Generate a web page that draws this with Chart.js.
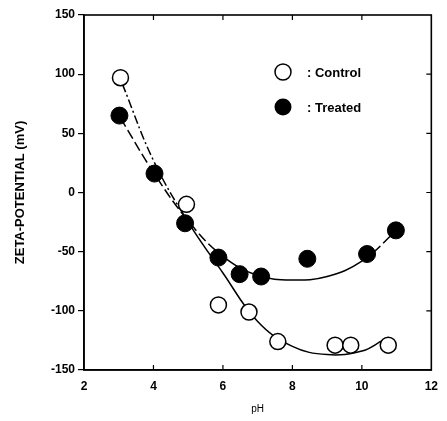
<!DOCTYPE html>
<html>
<head>
<meta charset="utf-8" />
<title>zeta potential</title>
<script src="https://cdn.jsdelivr.net/npm/chart.js"></script>
<style>
    html, body { margin: 0; padding: 0; background: #fff; }
    #wrap { width: 447px; height: 421px; }
</style>
</head>
<body>
<div id="wrap"><canvas id="zetaChart" width="447" height="421"></canvas></div>
<script>
    // measured points
    const phControl = [3.05, 4.95, 5.87, 6.75, 7.58, 9.23, 9.68, 10.76];
    const zetaControl = [97, -10, -95, -101, -126, -129, -129, -129];
    const phTreated = [3.02, 4.03, 4.91, 5.87, 6.48, 7.1, 8.43, 10.15, 10.98];
    const zetaTreated = [65, 16, -26, -55, -69, -71, -56, -52, -32];

    // fitted curves
    const fitPhControl = [3.1, 4, 5, 6, 7, 8, 9, 10, 10.6];
    const fitZetaControl = [92, 27, -25, -68, -109, -130, -137, -134, -125];
    const fitPhTreated = [3.05, 4, 5, 6, 7, 8, 9, 10, 11];
    const fitZetaTreated = [63, 17, -24, -54, -70, -74, -71, -58, -32];

    const xTicks = [2, 4, 6, 8, 10, 12];
    const yTicks = [-150, -100, -50, 0, 50, 100, 150];
    const legendLabels = [': Control', ': Treated'];

    const FONT = "'Liberation Sans', Arial, sans-serif";

    function pts(xs, ys) {
        return xs.map((x, i) => ({ x: x, y: ys[i] }));
    }

    // frame, inward ticks and the legend box inside the plot
    const framePlugin = {
        id: 'frame',
        afterDraw(chart) {
            const ctx = chart.ctx;
            const a = chart.chartArea;
            const xs = chart.scales.x, ys = chart.scales.y;
            ctx.save();
            ctx.strokeStyle = '#000';
            ctx.lineWidth = 1.6;
            ctx.strokeRect(a.left, a.top, a.right - a.left, a.bottom - a.top);
            ctx.lineWidth = 1.2;
            ctx.beginPath();
            xTicks.slice(1, -1).forEach(v => {
                const px = xs.getPixelForValue(v);
                ctx.moveTo(px, a.bottom); ctx.lineTo(px, a.bottom - 5);
                ctx.moveTo(px, a.top); ctx.lineTo(px, a.top + 5);
            });
            yTicks.slice(1, -1).forEach(v => {
                const py = ys.getPixelForValue(v);
                ctx.moveTo(a.right, py); ctx.lineTo(a.right - 5, py);
            });
            ctx.stroke();

            // legend
            const lx = a.left + 199;
            const rows = [a.top + 57, a.top + 92];
            ctx.lineWidth = 1.5;
            ctx.beginPath();
            ctx.arc(lx, rows[0], 8, 0, Math.PI * 2);
            ctx.fillStyle = '#fff';
            ctx.fill();
            ctx.stroke();
            ctx.beginPath();
            ctx.arc(lx, rows[1], 8.5, 0, Math.PI * 2);
            ctx.fillStyle = '#000';
            ctx.fill();
            ctx.font = 'bold 13px ' + FONT;
            ctx.textBaseline = 'middle';
            ctx.fillText(legendLabels[0], lx + 24, rows[0] + 1);
            ctx.fillText(legendLabels[1], lx + 24, rows[1] + 1);
            ctx.restore();
        }
    };

    new Chart(document.getElementById('zetaChart'), {
        type: 'scatter',
        data: {
            datasets: [
                {
                    label: 'Control',
                    data: pts(phControl, zetaControl),
                    pointRadius: 8,
                    pointBackgroundColor: '#fff',
                    pointBorderColor: '#000',
                    pointBorderWidth: 1.5,
                    showLine: false,
                    order: 0
                },
                {
                    label: 'Treated',
                    data: pts(phTreated, zetaTreated),
                    pointRadius: 8.5,
                    pointBackgroundColor: '#000',
                    pointBorderColor: '#000',
                    pointBorderWidth: 1,
                    showLine: false,
                    order: 0
                },
                {
                    label: 'Control fit',
                    data: pts(fitPhControl, fitZetaControl),
                    showLine: true,
                    pointRadius: 0,
                    borderColor: '#000',
                    borderWidth: 1.5,
                    tension: 0.4,
                    segment: {
                        borderDash: c => c.p1.parsed.x <= 5 ? [9, 3, 2, 3] : []
                    },
                    order: 1
                },
                {
                    label: 'Treated fit',
                    data: pts(fitPhTreated, fitZetaTreated),
                    showLine: true,
                    pointRadius: 0,
                    borderColor: '#000',
                    borderWidth: 1.5,
                    tension: 0.4,
                    segment: {
                        borderDash: c => (c.p1.parsed.x <= 6 || c.p0.parsed.x >= 10) ? [10, 4] : []
                    },
                    order: 1
                }
            ]
        },
        options: {
            responsive: false,
            animation: false,
            layout: { padding: { top: 15, right: 10, left: 0, bottom: 0 } },
            plugins: {
                legend: { display: false },
                tooltip: { enabled: false }
            },
            scales: {
                x: {
                    type: 'linear',
                    min: 2, max: 12,
                    afterBuildTicks: s => { s.ticks = xTicks.map(v => ({ value: v })); },
                    afterFit: s => { s.height = 51; },
                    grid: { display: true, drawOnChartArea: false, drawTicks: false, color: '#000' },
                    border: { color: '#000', width: 1.6 },
                    ticks: {
                        color: '#000',
                        padding: 9,
                        font: { family: FONT, size: 12, weight: 'bold' }
                    },
                    title: {
                        display: true,
                        text: 'pH',
                        color: '#000',
                        padding: { top: 0, bottom: 6 },
                        font: { family: FONT, size: 10 }
                    }
                },
                y: {
                    type: 'linear',
                    min: -150, max: 150,
                    afterBuildTicks: s => { s.ticks = yTicks.map(v => ({ value: v })); },
                    afterFit: s => { s.width = 84; },
                    grid: { drawOnChartArea: false, tickLength: 6, color: '#000', lineWidth: 1.2 },
                    border: { color: '#000', width: 1.6 },
                    ticks: {
                        color: '#000',
                        padding: 3,
                        font: { family: FONT, size: 12, weight: 'bold' }
                    },
                    title: {
                        display: true,
                        text: 'ZETA-POTENTIAL (mV)',
                        color: '#000',
                        padding: { top: 13, bottom: 0 },
                        font: { family: FONT, size: 13, weight: 'bold' }
                    }
                }
            }
        },
        plugins: [framePlugin]
    });
</script>
</body>
</html>
